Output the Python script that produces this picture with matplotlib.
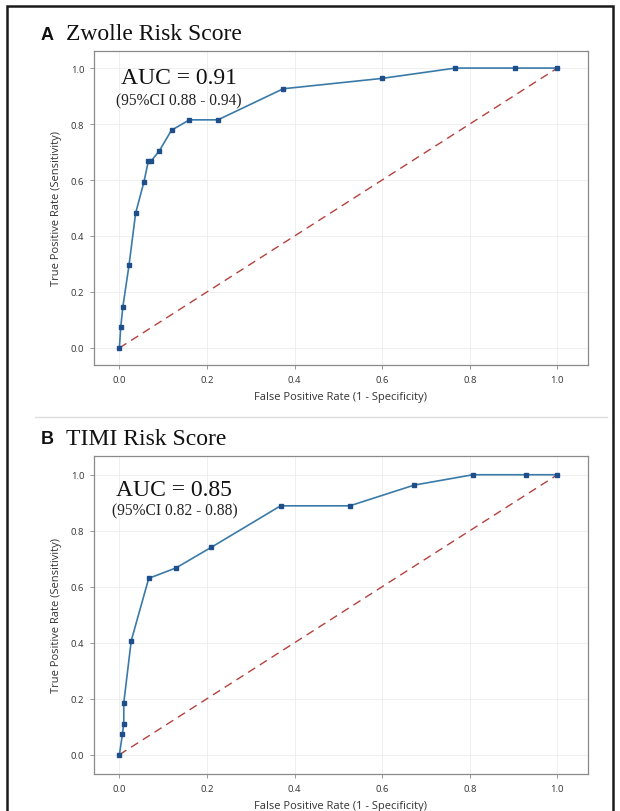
import matplotlib
matplotlib.use('Agg')
import matplotlib.pyplot as plt
from matplotlib.patches import Rectangle
from matplotlib.lines import Line2D

# Curva ROC - Zwolle
fpr_a = [0.0, 0.003, 0.008, 0.022, 0.037, 0.056, 0.066, 0.072, 0.091, 0.119,
         0.16, 0.225, 0.374, 0.599, 0.767, 0.903, 1.0]
tpr_a = [0.0, 0.074, 0.148, 0.296, 0.481, 0.593, 0.667, 0.667, 0.704, 0.778,
         0.815, 0.815, 0.926, 0.963, 1.0, 1.0, 1.0]

# Curva ROC - TIMI
fpr_b = [0.0, 0.007, 0.01, 0.01, 0.027, 0.067, 0.129, 0.21, 0.368, 0.526,
         0.673, 0.807, 0.928, 1.0]
tpr_b = [0.0, 0.074, 0.111, 0.185, 0.407, 0.63, 0.667, 0.741, 0.889, 0.889,
         0.963, 1.0, 1.0, 1.0]

titulos = ['Zwolle Risk Score', 'TIMI Risk Score']
letras = ['A', 'B']
auc = ['AUC = 0.91', 'AUC = 0.85']
ic = ['(95%CI 0.88 - 0.94)', '(95%CI 0.82 - 0.88)']
ticks = [0.0, 0.2, 0.4, 0.6, 0.8, 1.0]

W, H = 620, 812
fig = plt.figure(figsize=(W / 100, H / 100), dpi=100)
fig.patch.set_facecolor('white')

def fx(px):
    return px / W

def fy(py):
    return 1 - py / H

# Marco exterior y separador
fig.add_artist(Rectangle((fx(7), fy(830)), fx(606), 823 / H, fill=False,
                         edgecolor='#1a1a1a', linewidth=1.8, transform=fig.transFigure))
fig.add_artist(Line2D([fx(35), fx(607)], [fy(418), fy(418)], color='#dedede',
                      linewidth=1.0, transform=fig.transFigure))

paneles = [
    (fpr_a, tpr_a, 52, 366, (-0.058, 1.07), (-0.061, 1.061)),
    (fpr_b, tpr_b, 457, 775, (-0.058, 1.07), (-0.069, 1.067)),
]
# posiciones (datos) de los textos AUC / IC
pos_auc = [(0.136, 0.968), (0.124, 0.946)]
pos_ic = [(0.136, 0.883), (0.127, 0.871)]

for i, (fpr, tpr, top, bot, xl, yl) in enumerate(paneles):
    ax = fig.add_axes([fx(94), fy(bot), fx(588 - 94), (bot - top) / H])
    ax.plot([0, 1], [0, 1], color='#b5413d', linestyle=(0, (6, 4)), linewidth=1.0)
    ax.plot(fpr, tpr, color='#3a7aa8', linewidth=1.2, marker='s', markersize=2.2,
            markerfacecolor='#1f4f8a', markeredgecolor='#1f4f8a')
    ax.set_xlim(*xl)
    ax.set_ylim(*yl)
    ax.set_xticks(ticks)
    ax.set_yticks(ticks)
    ax.set_xticklabels([f'{t:.1f}' for t in ticks])
    ax.set_yticklabels([f'{t:.1f}' for t in ticks])
    ax.grid(True, color='#ececec', linewidth=0.6)
    ax.set_axisbelow(True)
    for s in ax.spines.values():
        s.set_color('#8a8a8a')
        s.set_linewidth(0.9)
    ax.tick_params(axis='both', labelsize=6.8, colors='#8a8a8a', labelcolor='#333333',
                   length=3, width=0.6, pad=4)
    ax.set_xlabel('False Positive Rate (1 - Specificity)', fontsize=8, color='#333333',
                  labelpad=5, family='Open Sans')
    ax.set_ylabel('True Positive Rate (Sensitivity)', fontsize=8, color='#333333',
                  labelpad=6, family='Open Sans')
    for lab in ax.get_xticklabels() + ax.get_yticklabels():
        lab.set_family('Open Sans')

    # Textos AUC
    ax.text(*pos_auc[i], auc[i], fontsize=17, family='Liberation Serif',
            color='#111111', ha='center', va='center')
    ax.text(*pos_ic[i], ic[i], fontsize=11.2, family='Liberation Serif',
            color='#222222', ha='center', va='center')

    # Título del panel
    ty = 35 if i == 0 else 440
    fig.text(fx(41), fy(ty), letras[i], fontsize=13, fontweight='bold',
             family='Liberation Sans', va='center', ha='left', color='#111111')
    fig.text(fx(66), fy(ty), titulos[i], fontsize=17, family='Liberation Serif',
             va='center', ha='left', color='#111111')

fig.savefig('out.png', dpi=100)
